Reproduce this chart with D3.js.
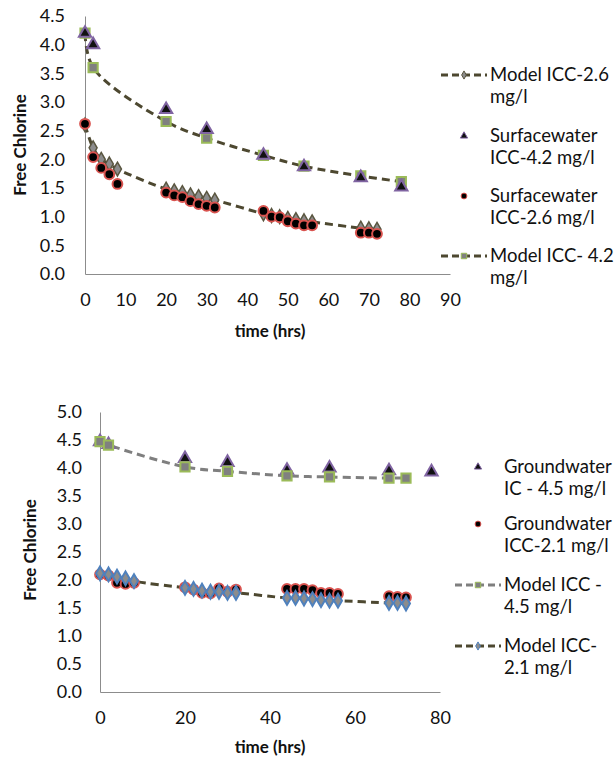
<!DOCTYPE html>
<html>
<head>
<meta charset="utf-8">
<script src="https://cdn.jsdelivr.net/npm/d3@7"></script>
<style>
    body { margin: 0; background: #fff; }
    text { font-family: Lato, "Open Sans", sans-serif; fill: #111; }
    .axis-title { font-weight: bold; font-size: 17px; }
    .tick text { font-size: 18px; }
    .legend text { font-size: 18.5px; }
</style>
</head>
<body>
<div id="chart"></div>
<script>

// ---- top chart: surface water ----
const topTimeA = [0, 2, 20, 30, 44, 54, 68, 78];
const surface42 = [4.2, 4.0, 2.87, 2.52, 2.07, 1.87, 1.68, 1.52];
const model42 = [4.2, 3.6, 2.66, 2.37, 2.07, 1.88, 1.71, 1.61];

const topTimeB = [0, 2, 4, 6, 8, 20, 22, 24, 26, 28, 30, 32, 44, 46, 48, 50, 52, 54, 56, 68, 70, 72];
const surface26 = [2.62, 2.04, 1.85, 1.74, 1.57, 1.42, 1.37, 1.34, 1.27, 1.22, 1.19, 1.16, 1.1, 1.0, 0.99, 0.92, 0.88, 0.85, 0.85, 0.72, 0.72, 0.7];
const model26 = [2.6, 2.2, 2.0, 1.92, 1.83, 1.48, 1.45, 1.42, 1.38, 1.35, 1.32, 1.29, 1.05, 1.02, 1.0, 0.97, 0.95, 0.93, 0.91, 0.8, 0.79, 0.78];

const topXTicks = [0, 10, 20, 30, 40, 50, 60, 70, 80, 90];
const topYTicks = [0, 0.5, 1, 1.5, 2, 2.5, 3, 3.5, 4, 4.5];
const topLegend = [
    ["Model ICC-2.6", "mg/l"],
    ["Surfacewater", "ICC-4.2 mg/l"],
    ["Surfacewater", "ICC-2.6 mg/l"],
    ["Model ICC- 4.2", "mg/l"]
];

// ---- bottom chart: ground water ----
const botTimeA = [0, 2, 20, 30, 44, 54, 68, 78];
const ground45 = [4.47, 4.42, 4.17, 4.1, 3.96, 4.0, 3.95, 3.93];
const botTimeModelA = [0, 2, 20, 30, 44, 54, 68, 72];
const model45 = [4.47, 4.41, 4.02, 3.94, 3.86, 3.84, 3.82, 3.82];

const botTimeB = [0, 2, 4, 6, 8, 20, 22, 24, 26, 28, 30, 32, 44, 46, 48, 50, 52, 54, 56, 68, 70, 72];
const ground21 = [2.1, 2.08, 1.95, 1.93, 1.95, 1.87, 1.83, 1.77, 1.76, 1.85, 1.79, 1.83, 1.84, 1.84, 1.84, 1.82, 1.77, 1.77, 1.75, 1.71, 1.7, 1.69];
const model21 = [2.12, 2.1, 2.06, 2.03, 1.98, 1.86, 1.84, 1.81, 1.79, 1.79, 1.77, 1.77, 1.68, 1.68, 1.67, 1.66, 1.64, 1.63, 1.63, 1.59, 1.59, 1.58];

const botXTicks = [0, 20, 40, 60, 80];
const botYTicks = [0, 0.5, 1, 1.5, 2, 2.5, 3, 3.5, 4, 4.5, 5];
const botLegend = [
    ["Groundwater", "IC - 4.5 mg/l"],
    ["Groundwater", "ICC-2.1 mg/l"],
    ["Model ICC -", "4.5 mg/l"],
    ["Model ICC-", "2.1 mg/l"]
];

const olive = "#4d4830";
const grey = "#7f7f7f";

// marker styles
const markers = {
    diamondGrey: {type: d3.symbolDiamond, size: 55, fill: "#8c8c8c", stroke: "#5a5640", sw: 1.5},
    diamondBlue: {type: d3.symbolDiamond, size: 55, fill: "#8c8c8c", stroke: "#4f81bd", sw: 2},
    triangle: {type: d3.symbolTriangle, size: 65, fill: "#111", stroke: "#8064a2", sw: 2},
    circle: {type: d3.symbolCircle, size: 75, fill: "#000", stroke: "#d9534f", sw: 2},
    square: {type: d3.symbolSquare, size: 85, fill: "#808080", stroke: "#9bbb59", sw: 2}
};

const svg = d3.select("#chart").append("svg")
    .attr("width", 614)
    .attr("height", 757);

function zip(xs, ys) {
    return xs.map((t, i) => ({t: t, v: ys[i]}));
}

function drawMarkers(g, x, y, pts, m) {
    g.selectAll(null).data(pts).enter().append("path")
        .attr("d", d3.symbol().type(m.type).size(m.size))
        .attr("transform", d => "translate(" + x(d.t) + "," + y(d.v) + ")")
        .attr("fill", m.fill)
        .attr("stroke", m.stroke)
        .attr("stroke-width", m.sw);
}

function drawLine(g, x, y, pts, color) {
    g.append("path")
        .datum(pts)
        .attr("fill", "none")
        .attr("stroke", color)
        .attr("stroke-width", 3)
        .attr("stroke-dasharray", "8,5")
        .attr("d", d3.line().curve(d3.curveCatmullRom)
            .x(d => x(d.t))
            .y(d => y(d.v)));
}

function drawAxes(cfg) {
    let g = cfg.g;
    let xAxis = d3.axisBottom(cfg.x).tickValues(cfg.xTicks).tickSize(0).tickPadding(19).tickFormat(d => d);
    let yAxis = d3.axisLeft(cfg.y).tickValues(cfg.yTicks).tickSize(0).tickPadding(cfg.yPad).tickFormat(d3.format(".1f"));

    g.append("g")
        .attr("transform", "translate(0," + cfg.y.range()[0] + ")")
        .call(xAxis)
        .call(a => a.select(".domain").attr("stroke", "#8c8c8c"));

    g.append("g")
        .attr("transform", "translate(" + cfg.x.range()[0] + ",0)")
        .call(yAxis)
        .call(a => a.select(".domain").attr("stroke", "#8c8c8c"));

    g.selectAll(".tick text").attr("font-family", null).attr("font-size", null);

    g.append("text")
        .attr("class", "axis-title")
        .attr("text-anchor", "middle")
        .attr("x", cfg.xTitle[0])
        .attr("y", cfg.xTitle[1])
        .text("time (hrs)");

    g.append("text")
        .attr("class", "axis-title")
        .attr("text-anchor", "middle")
        .attr("transform", "translate(" + cfg.yTitle[0] + "," + cfg.yTitle[1] + ") rotate(-90)")
        .text("Free Chlorine");
}

function drawLegend(g, items, x0, rows) {
    let lg = g.append("g").attr("class", "legend");
    items.forEach((it, i) => {
        let yy = rows[i];
        if (it.line) {
            lg.append("line")
                .attr("x1", x0).attr("x2", x0 + 46)
                .attr("y1", yy).attr("y2", yy)
                .attr("stroke", it.line)
                .attr("stroke-width", 3)
                .attr("stroke-dasharray", "7,4");
        }
        let m = it.marker;
        lg.append("path")
            .attr("d", d3.symbol().type(m.type).size(m.size * 0.35))
            .attr("transform", "translate(" + (x0 + 23) + "," + yy + ")")
            .attr("fill", m.fill)
            .attr("stroke", m.stroke)
            .attr("stroke-width", 1);
        lg.append("text")
            .attr("x", x0 + 49)
            .attr("y", yy)
            .attr("dy", "0.35em")
            .text(it.label[0]);
        lg.append("text")
            .attr("x", x0 + 49)
            .attr("y", yy + 22)
            .attr("dy", "0.35em")
            .text(it.label[1]);
    });
}

// ---------- top chart ----------
let gTop = svg.append("g");
let xTop = d3.scaleLinear().domain([0, 90]).range([85, 450]);
let yTop = d3.scaleLinear().domain([0, 4.5]).range([274, 16]);

drawAxes({g: gTop, x: xTop, y: yTop, xTicks: topXTicks, yTicks: topYTicks, yPad: 20,
    xTitle: [270, 337], yTitle: [26, 145]});

let m26 = zip(topTimeB, model26), s26 = zip(topTimeB, surface26);
let m42 = zip(topTimeA, model42), s42 = zip(topTimeA, surface42);

drawLine(gTop, xTop, yTop, m26, olive);
drawLine(gTop, xTop, yTop, m42, olive);
drawMarkers(gTop, xTop, yTop, m26, markers.diamondGrey);
drawMarkers(gTop, xTop, yTop, m42, markers.square);
drawMarkers(gTop, xTop, yTop, s42, markers.triangle);
drawMarkers(gTop, xTop, yTop, s26, markers.circle);

drawLegend(gTop, [
    {label: topLegend[0], line: olive, marker: markers.diamondGrey},
    {label: topLegend[1], marker: markers.triangle},
    {label: topLegend[2], marker: markers.circle},
    {label: topLegend[3], line: olive, marker: markers.square}
], 441, [75, 136, 196, 256]);

// ---------- bottom chart ----------
let gBot = svg.append("g");
let xBot = d3.scaleLinear().domain([0, 80]).range([100, 440]);
let yBot = d3.scaleLinear().domain([0, 5]).range([692, 412]);

drawAxes({g: gBot, x: xBot, y: yBot, xTicks: botXTicks, yTicks: botYTicks, yPad: 18,
    xTitle: [270, 753], yTitle: [36, 550]});

let g45 = zip(botTimeA, ground45), mm45 = zip(botTimeModelA, model45);
let g21 = zip(botTimeB, ground21), mm21 = zip(botTimeB, model21);

drawLine(gBot, xBot, yBot, mm45, grey);
drawLine(gBot, xBot, yBot, mm21, olive);
drawMarkers(gBot, xBot, yBot, g45, markers.triangle);
drawMarkers(gBot, xBot, yBot, g21, markers.circle);
drawMarkers(gBot, xBot, yBot, mm45, markers.square);
drawMarkers(gBot, xBot, yBot, mm21, markers.diamondBlue);

drawLegend(gBot, [
    {label: botLegend[0], marker: markers.triangle},
    {label: botLegend[1], marker: markers.circle},
    {label: botLegend[2], line: grey, marker: markers.square},
    {label: botLegend[3], line: olive, marker: markers.diamondBlue}
], 455, [467, 524, 585, 646]);

</script>
</body>
</html>
